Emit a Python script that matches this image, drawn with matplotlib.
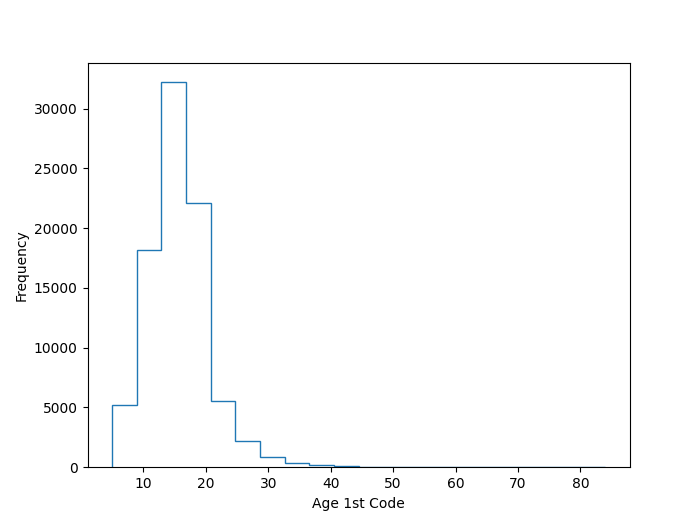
import numpy as np
import matplotlib
matplotlib.use("Agg")
import matplotlib.pyplot as plt

bin_low = 5
bin_high = 84
n_bins = 20
counts = [5200, 18200, 32200, 22100, 5500, 2170, 820, 320, 160, 80,
          30, 15, 10, 6, 4, 3, 2, 2, 1, 1]
x_label = "Age 1st Code"
y_label = "Frequency"

edges = np.linspace(bin_low, bin_high, n_bins + 1)

fig, ax = plt.subplots(figsize=(7, 5.25), dpi=100)
ax.hist(edges[:-1], bins=edges, weights=counts, histtype="step", color="#1f77b4")
ax.set_xlabel(x_label)
ax.set_ylabel(y_label)
fig.savefig("out.png")
